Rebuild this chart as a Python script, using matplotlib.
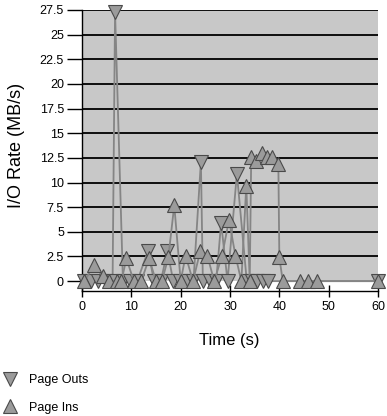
import matplotlib
matplotlib.use("Agg")
import matplotlib.pyplot as plt
from matplotlib.lines import Line2D

plt.rcParams['font.family'] = ['Liberation Sans', 'DejaVu Sans']

# Data (time in s, I/O rate in MB/s)
out_time = [0.5, 1.8, 3.2, 4.8, 6.2, 6.7, 8.3, 9.8, 11.2, 13.4, 14.6, 16.0, 17.3,
            18.5, 19.8, 21.2, 22.6, 24.1, 24.5, 26.0, 27.2, 28.2, 29.5, 31.4,
            33.4, 34.5, 35.5, 36.6, 37.8, 60.0]
out_rate = [0, 0, 0, 0, 0, 27.3, 0, 0, 0, 3.1, 0, 0, 3.1,
            0, 0, 0, 0, 12.1, 0, 0, 0, 5.9, 0, 10.9,
            0, 0, 0, 0, 0, 0]

in_time = [0.5, 2.4, 4.2, 5.5, 7.0, 8.0, 9.0, 10.5, 12.0, 13.6, 15.0, 16.2, 17.5,
           18.7, 20.0, 21.0, 22.5, 24.0, 25.4, 26.8, 28.4, 29.8, 31.1, 32.3,
           33.3, 34.0, 34.3, 35.3, 36.5, 37.6, 38.6, 39.8, 40.0, 40.7, 44.2,
           45.9, 47.7, 60.0]
in_rate = [0, 1.6, 0.5, 0, 0, 0, 2.3, 0, 0, 2.3, 0, 0, 2.4,
           7.7, 0, 2.6, 0, 3.1, 2.6, 0, 2.6, 6.2, 2.6, 0,
           9.7, 0, 12.6, 12.2, 13.0, 12.6, 12.6, 11.9, 2.4, 0, 0,
           0, 0, 0]

y_ticks = [0, 2.5, 5, 7.5, 10, 12.5, 15, 17.5, 20, 22.5, 25, 27.5]
y_labels = ["0", "2.5", "5", "7.5", "10", "12.5", "15", "17.5", "20", "22.5", "25", "27.5"]
x_ticks = [0, 10, 20, 30, 40, 50, 60]
series_labels = ["Page Outs", "Page Ins"]

W, H = 387, 416
fig = plt.figure(figsize=(W / 100, H / 100), dpi=100)
left_px, right_px, top_px, bottom_px = 82, 378, 10, 291
ax = fig.add_axes([left_px / W, 1 - bottom_px / H, (right_px - left_px) / W,
                   (bottom_px - top_px) / H])
ax.set_xlim(0, 60)
ax.set_ylim(-1.0, 27.5)

ax.axhspan(0, 27.5, color='#c8c8c8', zorder=0, lw=0)
for yv in y_ticks[1:]:
    ax.axhline(yv, color='black', lw=1.3, zorder=1)

line_col = '#858585'
face = '#9b9b9b'
edge = '#4a4a4a'
ax.plot(out_time, out_rate, color=line_col, lw=1.3, marker='v', ms=10.5,
        mfc=face, mec=edge, mew=0.8, zorder=3, clip_on=False)
ax.plot(in_time, in_rate, color=line_col, lw=1.3, marker='^', ms=10.5,
        mfc=face, mec=edge, mew=0.8, zorder=4, clip_on=False)

for s in ['top', 'right']:
    ax.spines[s].set_visible(False)
ax.spines['left'].set_linewidth(1.0)
ax.spines['bottom'].set_linewidth(1.0)

ax.set_yticks(y_ticks)
ax.set_yticklabels(y_labels)
ax.set_xticks(x_ticks)
ax.tick_params(axis='y', direction='out', length=11, width=1, labelsize=9, pad=2)
ax.tick_params(axis='x', direction='inout', length=9, width=1, labelsize=9, pad=3)

fig.text(229 / W, 1 - 340 / H, "Time (s)", ha='center', va='center', fontsize=12)
fig.text(17 / W, 1 - 145 / H, "I/O Rate (MB/s)", ha='center', va='center',
         rotation=90, fontsize=13)

handles = [Line2D([], [], ls='none', marker='v', ms=10.5, mfc=face, mec=edge, mew=0.8),
           Line2D([], [], ls='none', marker='^', ms=10.5, mfc=face, mec=edge, mew=0.8)]
fig.legend(handles, series_labels, loc='upper left', bbox_to_anchor=(0.0, 1 - 372 / H),
           frameon=False, fontsize=9, labelspacing=1.2, handlelength=1.2,
           handletextpad=0.9, borderpad=0.2, borderaxespad=0)

fig.savefig("out.png", dpi=100)
